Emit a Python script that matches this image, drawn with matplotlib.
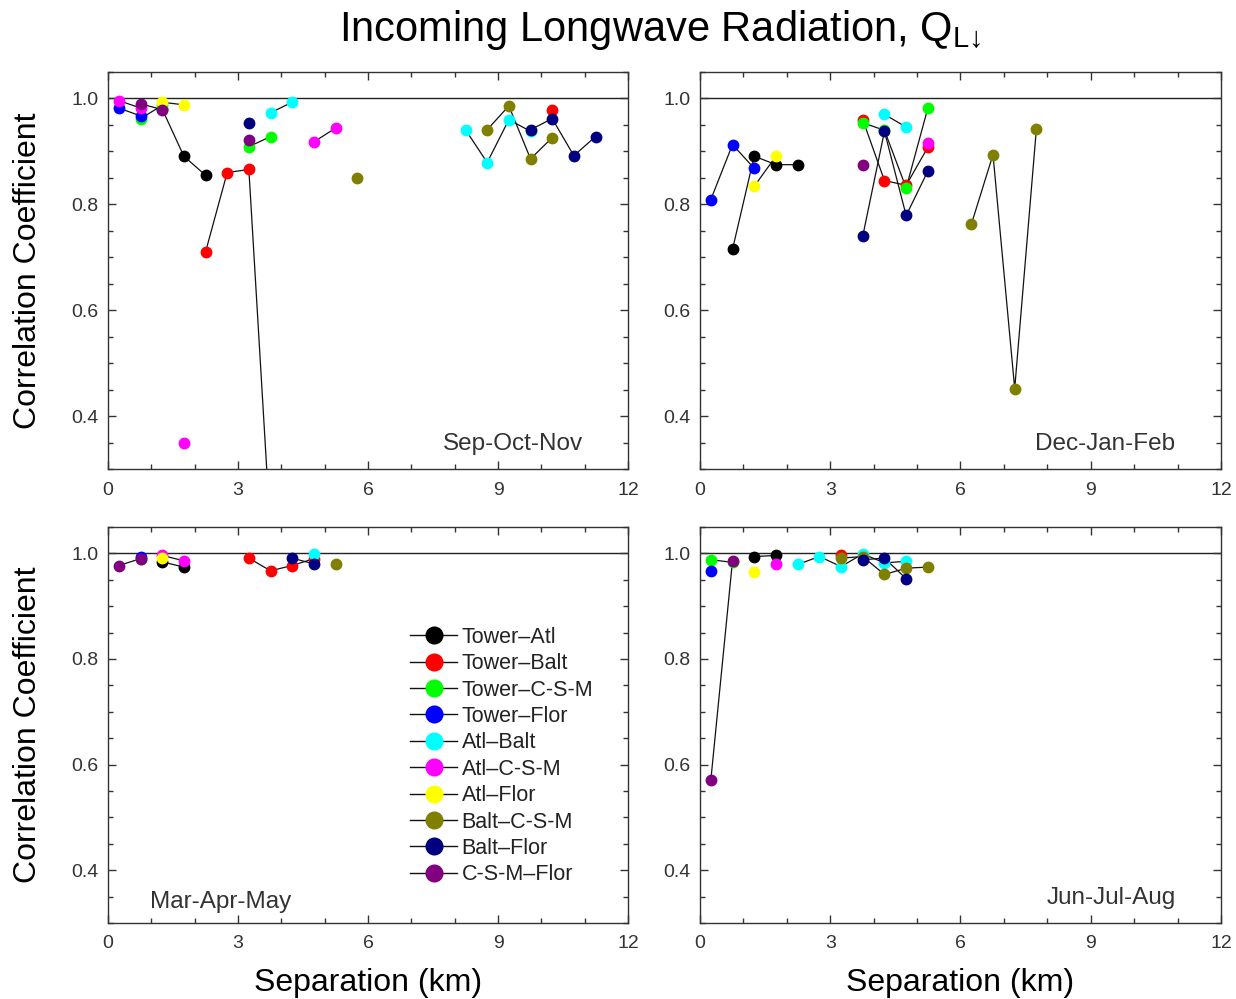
import numpy as np
import matplotlib
matplotlib.use("Agg")
import matplotlib.pyplot as plt
from matplotlib.ticker import MultipleLocator
from matplotlib.lines import Line2D

plt.rcParams['font.family'] = ['Liberation Sans', 'DejaVu Sans']

pairs = ["Tower\u2013Atl", "Tower\u2013Balt", "Tower\u2013C-S-M", "Tower\u2013Flor",
         "Atl\u2013Balt", "Atl\u2013C-S-M", "Atl\u2013Flor", "Balt\u2013C-S-M",
         "Balt\u2013Flor", "C-S-M\u2013Flor"]
colors = ["#000000", "#ff0000", "#00ff00", "#0000ff", "#00ffff",
          "#ff00ff", "#ffff00", "#808000", "#000080", "#800080"]

# (separation km, correlation) per pair, one dict per season
son = {
    "Tower\u2013Atl": ([1.25, 1.75, 2.25], [0.98, 0.891, 0.855]),
    "Tower\u2013Balt": ([2.25, 2.75, 3.25, 3.75, 10.25], [0.71, 0.86, 0.866, 0.18, 0.979]),
    "Tower\u2013C-S-M": ([0.75, 1.25, 3.25, 3.75], [0.962, 0.987, 0.909, 0.928]),
    "Tower\u2013Flor": ([0.25, 0.75], [0.982, 0.967]),
    "Atl\u2013Balt": ([3.75, 4.25, 8.25, 8.75, 9.25, 9.75], [0.973, 0.993, 0.941, 0.879, 0.96, 0.938]),
    "Atl\u2013C-S-M": ([0.25, 0.75, 1.75, 4.75, 5.25], [0.996, 0.982, 0.349, 0.918, 0.944]),
    "Atl\u2013Flor": ([1.25, 1.75], [0.993, 0.988]),
    "Balt\u2013C-S-M": ([5.75, 8.75, 9.25, 9.75, 10.25], [0.85, 0.941, 0.986, 0.886, 0.926]),
    "Balt\u2013Flor": ([3.25, 9.75, 10.25, 10.75, 11.25], [0.954, 0.941, 0.962, 0.892, 0.928]),
    "C-S-M\u2013Flor": ([0.75, 1.25, 3.25], [0.99, 0.979, 0.921]),
}
djf = {
    "Tower\u2013Atl": ([0.75, 1.25, 1.75, 2.25], [0.715, 0.891, 0.875, 0.875]),
    "Tower\u2013Balt": ([3.75, 4.25, 4.75, 5.25], [0.96, 0.845, 0.836, 0.908]),
    "Tower\u2013C-S-M": ([3.75, 4.25, 4.75, 5.25], [0.954, 0.94, 0.831, 0.982]),
    "Tower\u2013Flor": ([0.25, 0.75, 1.25], [0.809, 0.913, 0.868]),
    "Atl\u2013Balt": ([4.25, 4.75], [0.97, 0.946]),
    "Atl\u2013C-S-M": ([5.25], [0.916]),
    "Atl\u2013Flor": ([1.25, 1.75], [0.834, 0.891]),
    "Balt\u2013C-S-M": ([6.25, 6.75, 7.25, 7.75], [0.762, 0.894, 0.452, 0.943]),
    "Balt\u2013Flor": ([3.75, 4.25, 4.75, 5.25], [0.74, 0.938, 0.779, 0.863]),
    "C-S-M\u2013Flor": ([3.75], [0.875]),
}
mam = {
    "Tower\u2013Atl": ([1.25, 1.75], [0.984, 0.974]),
    "Tower\u2013Balt": ([3.25, 3.75, 4.25, 4.75], [0.991, 0.967, 0.977, 0.99]),
    "Tower\u2013C-S-M": ([0.75], [0.99]),
    "Tower\u2013Flor": ([0.75], [0.994]),
    "Atl\u2013Balt": ([4.75], [0.999]),
    "Atl\u2013C-S-M": ([1.25, 1.75], [0.996, 0.986]),
    "Atl\u2013Flor": ([1.25], [0.991]),
    "Balt\u2013C-S-M": ([5.25], [0.98]),
    "Balt\u2013Flor": ([4.25, 4.75], [0.991, 0.98]),
    "C-S-M\u2013Flor": ([0.25, 0.75], [0.977, 0.99]),
}
jja = {
    "Tower\u2013Atl": ([1.25, 1.75], [0.994, 0.996]),
    "Tower\u2013Balt": ([3.25], [0.996]),
    "Tower\u2013C-S-M": ([0.25, 0.75], [0.988, 0.983]),
    "Tower\u2013Flor": ([0.25], [0.967]),
    "Atl\u2013Balt": ([2.25, 2.75, 3.25, 3.75, 4.25, 4.75], [0.979, 0.994, 0.975, 0.999, 0.982, 0.985]),
    "Atl\u2013C-S-M": ([1.75], [0.98]),
    "Atl\u2013Flor": ([1.25], [0.965]),
    "Balt\u2013C-S-M": ([3.25, 3.75, 4.25, 4.75, 5.25], [0.991, 0.994, 0.96, 0.972, 0.974]),
    "Balt\u2013Flor": ([3.75, 4.25, 4.75], [0.988, 0.991, 0.952]),
    "C-S-M\u2013Flor": ([0.25, 0.75], [0.57, 0.986]),
}

seasons = [son, djf, mam, jja]
season_names = ["Sep-Oct-Nov", "Dec-Jan-Feb", "Mar-Apr-May", "Jun-Jul-Aug"]


def with_gaps(x, y):
    # only neighbouring 0.5 km bins get joined
    xs, ys = [x[0]], [y[0]]
    for i in range(1, len(x)):
        if x[i] - x[i - 1] > 0.6:
            xs.append(np.nan)
            ys.append(np.nan)
        xs.append(x[i])
        ys.append(y[i])
    return xs, ys


fig = plt.figure(figsize=(12.36, 9.99), dpi=100)
boxes = [[0.0874, 0.5305, 0.4207, 0.3974],
         [0.5663, 0.5305, 0.4215, 0.3974],
         [0.0874, 0.0761, 0.4207, 0.3964],
         [0.5663, 0.0761, 0.4215, 0.3964]]

axes = []
for k, data in enumerate(seasons):
    ax = fig.add_axes(boxes[k])
    axes.append(ax)
    ax.axhline(1.0, color='#222222', lw=1.0, zorder=1)
    for name, c in zip(pairs, colors):
        x, y = data[name]
        xs, ys = with_gaps(x, y)
        ax.plot(xs, ys, color='#111111', lw=0.9, zorder=2)
        ax.plot(x, y, 'o', color=c, ms=7.5, mec=c, zorder=3)
    ax.set_xlim(0, 12)
    ax.set_ylim(0.3, 1.05)
    ax.xaxis.set_major_locator(MultipleLocator(3))
    ax.xaxis.set_minor_locator(MultipleLocator(1))
    ax.yaxis.set_minor_locator(MultipleLocator(0.05))
    ax.set_yticks([0.4, 0.6, 0.8, 1.0])
    ax.set_yticklabels(["0.4", "0.6", "0.8", "1.0"])
    ax.tick_params(which='both', direction='in', top=True, right=True,
                   labelsize=14, labelcolor='#333333', color='#333333')
    ax.tick_params(axis='y', pad=7)
    ax.tick_params(axis='x', pad=9)
    ax.tick_params(which='major', length=6, width=1)
    ax.tick_params(which='minor', length=3.5, width=1)
    for s in ax.spines.values():
        s.set_color('#333333')
        s.set_linewidth(1.0)
    if k in (0, 1, 3):
        ax.text(0.913, 0.035, season_names[k], transform=ax.transAxes,
                ha='right', va='bottom', fontsize=17.5, color='#333333')
    else:
        ax.text(0.08, 0.025, season_names[k], transform=ax.transAxes,
                ha='left', va='bottom', fontsize=17.5, color='#333333')

for ax in (axes[0], axes[2]):
    ax.set_ylabel("Correlation Coefficient", fontsize=23, labelpad=20)
for ax in (axes[2], axes[3]):
    ax.set_xlabel("Separation (km)", fontsize=23, labelpad=11)

handles = [Line2D([0], [0], color='#111111', lw=1.0, marker='o', ms=12,
                  mfc=c, mec=c) for c in colors]
axes[2].legend(handles, pairs, loc='upper left', bbox_to_anchor=(0.56, 0.775),
               frameon=False, fontsize=15.5, handlelength=2.2, handletextpad=0.2,
               labelspacing=0.25, borderpad=0, labelcolor='#222222')

fig.text(0.534, 0.97, "Incoming Longwave Radiation, Q$_{\\mathregular{L\u2193}}$",
         ha='center', va='center', fontsize=30)

fig.savefig("out.png", dpi=100)
